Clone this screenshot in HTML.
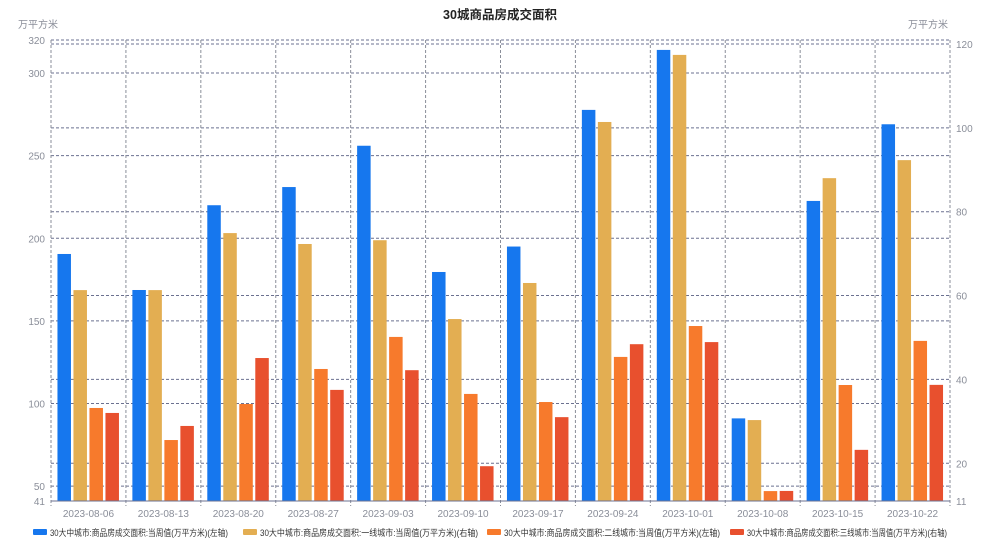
<!DOCTYPE html>
<html><head><meta charset="utf-8">
<style>
body{margin:0;background:#fff;width:1000px;height:555px;overflow:hidden;font-family:"Liberation Sans","Noto Sans CJK SC",sans-serif;}
svg text{font-family:"Liberation Sans","Noto Sans CJK SC",sans-serif;}
</style></head>
<body>
<svg id="chart" width="1000" height="555" xmlns="http://www.w3.org/2000/svg">
<text x="500" y="19" text-anchor="middle" font-size="12.5" font-weight="bold" fill="#222">30城商品房成交面积</text>
<text x="18" y="28" font-size="10" fill="#8a8e99">万平方米</text>
<text x="948" y="28" text-anchor="end" font-size="10" fill="#8a8e99">万平方米</text>
<g id="grid"></g><g id="bars"></g><g id="axes"></g><g id="legend"></g>
</svg>
<script>
const categories=["2023-08-06","2023-08-13","2023-08-20","2023-08-27","2023-09-03","2023-09-10","2023-09-17","2023-09-24","2023-10-01","2023-10-08","2023-10-15","2023-10-22"];
const totalLeft=[190.5,168.7,220,231,256,179.6,195,277.7,314,91,222.6,269];
const tier1Right=[61.3,61.3,74.9,72.3,73.2,54.4,63,101.4,117.4,30.3,88,92.3];
const tier2Left=[97.3,77.9,99.7,120.9,140.3,105.8,100.9,128.2,146.9,47,111.2,137.9];
const tier3Right=[32,28.9,45.1,37.5,42.2,19.3,31,48.4,48.9,13.4,23.2,38.7];
const leftTicks=[41,50,100,150,200,250,300,320];
const rightTicks=[11,20,40,60,80,100,120];
const seriesNames=["30大中城市:商品房成交面积:当周值(万平方米)(左轴)","30大中城市:商品房成交面积:一线城市:当周值(万平方米)(右轴)","30大中城市:商品房成交面积:二线城市:当周值(万平方米)(左轴)","30大中城市:商品房成交面积:三线城市:当周值(万平方米)(右轴)"];
const colors=["#1677ee","#e3ae52","#f77a2c","#e8502e"];
const NS="http://www.w3.org/2000/svg";
const X0=51,X1=950,Y0=501;
const yL=v=>Y0-(v-41)*(501-40)/(320-41);
const yR=v=>Y0-(v-11)*(501-44)/(120-11);
const band=(X1-X0)/categories.length;
function mk(t,a,p){const e=document.createElementNS(NS,t);for(const k in a)e.setAttribute(k,a[k]);p.appendChild(e);return e;}
const grid=document.getElementById('grid'),bars=document.getElementById('bars'),axes=document.getElementById('axes'),legend=document.getElementById('legend');
leftTicks.forEach(v=>{
  if(v>41){const l=mk('line',{x1:X0,x2:X1,y1:yL(v),y2:yL(v),stroke:'#6b7190','stroke-dasharray':'3,2','stroke-width':1},grid);
  
  }
  const t=mk('text',{x:45,y:yL(v)+4,'text-anchor':'end','font-size':10,fill:'#8a8e99'},axes);t.textContent=v;
  
  
});
rightTicks.forEach(v=>{
  if(v>11){const l=mk('line',{x1:X0,x2:X1,y1:yR(v),y2:yR(v),stroke:'#6b7190','stroke-dasharray':'3,2','stroke-width':1},grid);
  
  }
  const t=mk('text',{x:956,y:yR(v)+4,'font-size':10,fill:'#8a8e99'},axes);t.textContent=v;
  
  
});
for(let i=0;i<=categories.length;i++){
  const x=X0+i*band;
  const l=mk('line',{x1:x,x2:x,y1:40,y2:Y0+5,stroke:'#8a8e99','stroke-dasharray':'3,2','stroke-width':1},grid);
  
  
}
const bl=mk('line',{x1:X0,x2:X1,y1:Y0,y2:Y0,stroke:'#6b7190','stroke-width':1},axes);


const series=[[totalLeft,yL],[tier1Right,yR],[tier2Left,yL],[tier3Right,yR]];
categories.forEach((c,i)=>{
  const cx=X0+band*(i+0.5);
  const t=mk('text',{x:cx,y:517,'text-anchor':'middle','font-size':10,fill:'#8a8e99'},axes);t.textContent=c;
  
  
  series.forEach((s,j)=>{
    const y=s[1](s[0][i]);
    const r=mk('rect',{x:cx-31+j*16,y:y,width:13.5,height:Y0-y,fill:colors[j]},bars);
    
    
  });
});
const lx=[33,243,487,730];
const lw=[178,218,216,200];
seriesNames.forEach((n,j)=>{
  const r=mk('rect',{x:lx[j],y:529,width:14,height:6,rx:1,fill:colors[j]},legend);
  
  
  const t=mk('text',{x:lx[j]+17,y:536,'font-size':9,fill:'#333',textLength:lw[j],lengthAdjust:'spacingAndGlyphs'},legend);t.textContent=n;
  
  
});
</script>
</body></html>
